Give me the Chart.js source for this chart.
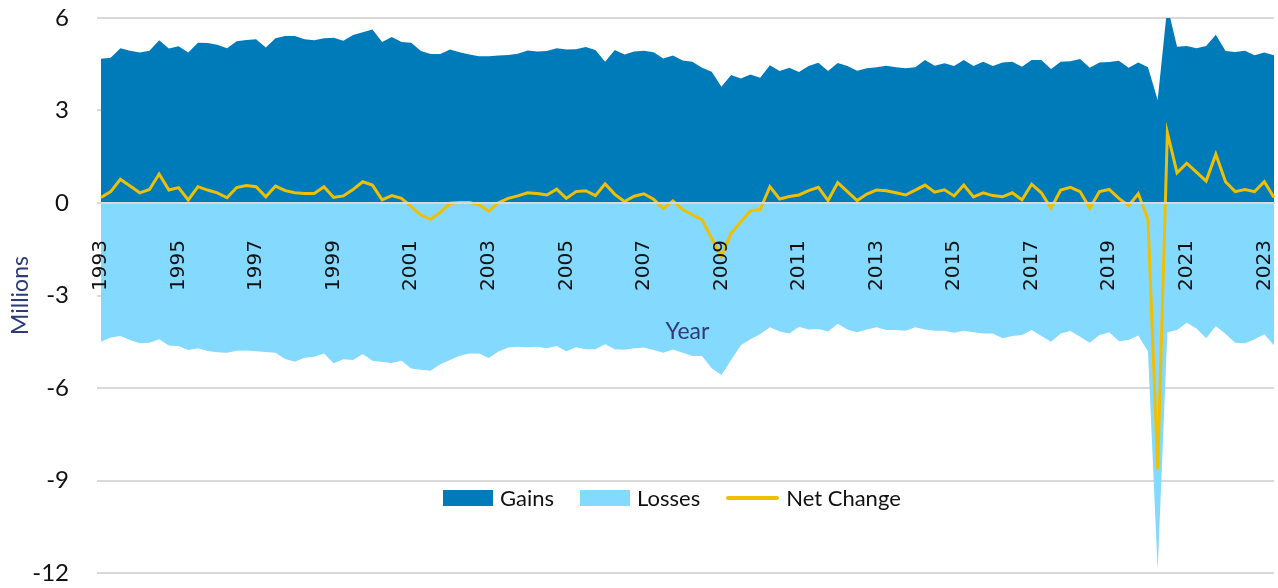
<!DOCTYPE html>
<html>
<head>
<meta charset="utf-8">
<script src="https://cdn.jsdelivr.net/npm/chart.js@4.4.0/dist/chart.umd.min.js"></script>
<style>
  html, body { margin: 0; padding: 0; background: #fff; }
  #wrap { position: relative; width: 1278px; height: 588px; }
  #legend { position: absolute; left: 443px; top: 484px; display: flex; align-items: center;
            font-family: Lato, sans-serif; font-size: 22px; color: #111; white-space: nowrap; }
  .item { display: flex; align-items: center; margin-right: 26px; }
  .mark { margin-right: 7px; }
</style>
</head>
<body>
<div id="wrap">
  <canvas id="jobsChart"></canvas>
  <div id="legend"></div>
</div>
<script>
// quarterly series, 1993 Q1 .. 2023 Q2, millions
var startYear = 1993;
var gains = [4.68,4.71,5.02,4.94,4.88,4.94,5.28,5.01,5.08,4.88,5.20,5.19,5.13,5.02,5.25,5.29,
  5.31,5.04,5.34,5.42,5.42,5.31,5.28,5.34,5.36,5.26,5.45,5.54,5.63,5.22,5.38,5.22,
  5.20,4.93,4.83,4.83,4.98,4.89,4.82,4.76,4.76,4.78,4.80,4.84,4.95,4.91,4.93,5.02,
  4.98,4.99,5.06,4.96,4.58,4.96,4.82,4.91,4.94,4.89,4.69,4.78,4.62,4.58,4.39,4.26,
  3.77,4.15,4.04,4.17,4.06,4.47,4.28,4.39,4.25,4.44,4.55,4.28,4.54,4.44,4.29,4.37,
  4.40,4.45,4.40,4.37,4.40,4.64,4.45,4.53,4.44,4.64,4.44,4.58,4.44,4.56,4.58,4.42,
  4.64,4.64,4.35,4.58,4.60,4.67,4.39,4.56,4.57,4.61,4.39,4.56,4.40,3.34,6.39,5.07,
  5.09,5.02,5.09,5.46,4.93,4.90,4.94,4.79,4.88,4.79];
var losses = [-4.50,-4.36,-4.31,-4.44,-4.55,-4.53,-4.42,-4.62,-4.64,-4.77,-4.71,-4.80,-4.84,-4.86,-4.79,-4.78,
  -4.81,-4.83,-4.86,-5.06,-5.15,-5.02,-4.99,-4.88,-5.20,-5.07,-5.09,-4.90,-5.12,-5.16,-5.19,-5.12,
  -5.37,-5.41,-5.44,-5.23,-5.09,-4.95,-4.88,-4.88,-5.03,-4.82,-4.69,-4.66,-4.68,-4.66,-4.71,-4.64,
  -4.81,-4.68,-4.74,-4.74,-4.58,-4.74,-4.76,-4.71,-4.69,-4.77,-4.86,-4.75,-4.86,-4.96,-4.96,-5.36,
  -5.58,-5.09,-4.61,-4.42,-4.25,-4.03,-4.17,-4.23,-4.01,-4.10,-4.09,-4.17,-3.92,-4.10,-4.19,-4.10,
  -4.03,-4.12,-4.12,-4.14,-4.03,-4.10,-4.14,-4.14,-4.21,-4.14,-4.19,-4.23,-4.23,-4.39,-4.31,-4.28,
  -4.12,-4.31,-4.50,-4.23,-4.15,-4.34,-4.53,-4.28,-4.19,-4.48,-4.44,-4.30,-4.82,-11.90,-4.19,-4.12,
  -3.88,-4.07,-4.39,-3.99,-4.25,-4.53,-4.55,-4.42,-4.26,-4.61];
var netChange = [0.18,0.37,0.77,0.55,0.33,0.44,0.94,0.42,0.50,0.10,0.53,0.42,0.33,0.17,0.50,0.57,
  0.53,0.20,0.55,0.40,0.33,0.31,0.31,0.53,0.18,0.23,0.44,0.69,0.58,0.10,0.24,0.15,
  -0.12,-0.39,-0.53,-0.30,-0.01,0.02,0.02,-0.06,-0.26,0.01,0.15,0.23,0.33,0.31,0.26,0.45,
  0.15,0.37,0.40,0.24,0.62,0.28,0.05,0.22,0.30,0.12,-0.18,0.07,-0.21,-0.38,-0.54,-1.15,
  -1.74,-0.98,-0.61,-0.25,-0.21,0.53,0.13,0.21,0.26,0.40,0.51,0.08,0.66,0.37,0.08,0.29,
  0.42,0.40,0.33,0.26,0.42,0.58,0.35,0.43,0.23,0.58,0.20,0.33,0.24,0.20,0.33,0.10,
  0.61,0.33,-0.17,0.42,0.51,0.37,-0.17,0.37,0.44,0.15,-0.09,0.30,-0.53,-8.64,2.28,0.98,
  1.29,1.00,0.71,1.58,0.69,0.37,0.44,0.37,0.69,0.18];

var quarters = [];
for (var i = 0; i < gains.length; i++) {
  quarters.push((startYear + Math.floor(i / 4)) + ' Q' + (i % 4 + 1));
}

var navy = '#2d3b78';

var ctx = document.getElementById('jobsChart');
var chart = new Chart(ctx, {
  type: 'line',
  data: {
    labels: quarters,
    datasets: [
      { label: 'Gains', data: gains, backgroundColor: '#007bba', borderWidth: 0,
        fill: 'origin', pointRadius: 0, order: 1 },
      { label: 'Losses', data: losses, backgroundColor: '#84d9ff', borderWidth: 0,
        fill: 'origin', pointRadius: 0, order: 2 },
      { label: 'Net Change', data: netChange, borderColor: '#f0c000', borderWidth: 3,
        fill: false, pointRadius: 0, order: 0 }
    ]
  },
  options: {
    responsive: true,
    maintainAspectRatio: false,
    animation: false,
    layout: { padding: { top: 18, right: 4, bottom: 15, left: 3 } },
    plugins: { legend: { display: false }, tooltip: { enabled: false } },
    elements: { line: { tension: 0 } },
    scales: {
      x: {
        position: { y: 0 },
        offset: false,
        grid: { display: false, drawTicks: false, z: 1 },
        border: { display: true, color: '#d9d9d9', width: 2, z: 1 },
        afterFit: function (s) { s.paddingLeft = 0; s.paddingRight = 0; },
        ticks: {
          z: 1, autoSkip: false, minRotation: 90, maxRotation: 90, padding: 37,
          color: '#111', font: { family: 'DejaVu Sans', size: 20 },
          callback: function (v) {
            var l = this.getLabelForValue(v);
            var yr = parseInt(l.slice(0, 4), 10);
            return (l.slice(-2) === 'Q1' && yr % 2 === 1) ? String(yr) : '';
          }
        },
        title: { display: true, text: 'Year', color: navy,
                 font: { family: 'Lato', size: 23 }, padding: { top: -10 } }
      },
      y: {
        min: -12, max: 6,
        border: { display: false },
        afterFit: function (s) { s.paddingTop = 0; s.paddingBottom = 0; s.width = 98; },
        grid: { color: '#d9d9d9', lineWidth: 2, tickLength: 4, drawTicks: true },
        ticks: { stepSize: 3, padding: 28, color: '#111', font: { family: 'Lato', size: 24 } },
        title: { display: true, text: 'Millions', color: navy,
                 font: { family: 'Lato', size: 23 }, padding: { bottom: 6 } }
      }
    }
  }
});

// legend drawn as html inside the plot
var legendEl = document.getElementById('legend');
chart.data.datasets.forEach(function (ds) {
  var item = document.createElement('span');
  item.className = 'item';
  var mark = document.createElement('span');
  mark.className = 'mark';
  if (ds.fill) {
    mark.style.cssText = 'display:inline-block;width:50px;height:16px;background:' + ds.backgroundColor;
  } else {
    mark.style.cssText = 'display:inline-block;width:53px;height:4px;border-radius:2px;background:' + ds.borderColor;
  }
  item.appendChild(mark);
  item.appendChild(document.createTextNode(ds.label));
  legendEl.appendChild(item);
});
</script>
</body>
</html>
